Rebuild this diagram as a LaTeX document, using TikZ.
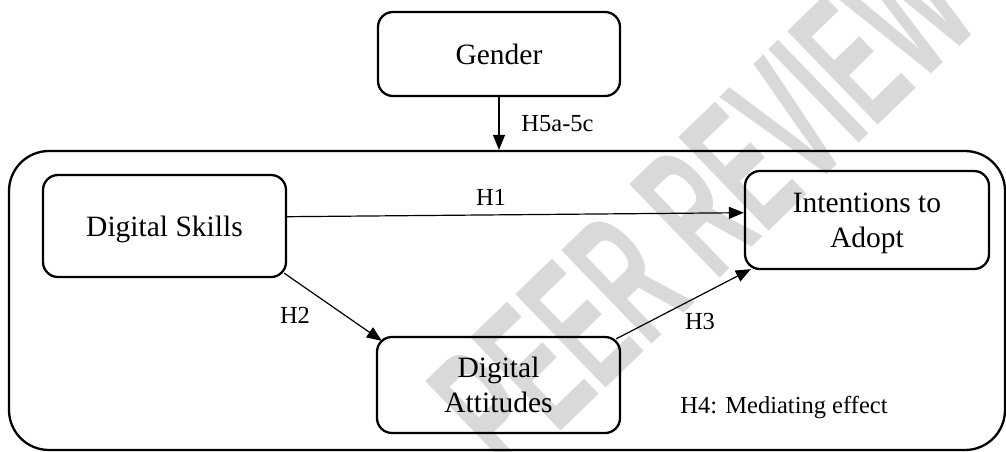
\documentclass[tikz,border=0pt]{standalone}
\usepackage{fontspec}
\setmainfont{Liberation Serif}
\newfontfamily\wmfont{Liberation Sans}
\usetikzlibrary{arrows.meta}
\tikzset{
  x=1pt, y=-1pt,
  boxnode/.style={draw, line width=2.3pt, rounded corners=15pt, align=center,
    font=\fontsize{29.5}{35}\selectfont, inner sep=0pt, text depth=0pt},
  conn/.style={line width=1.2pt, -{Triangle[length=15pt,width=12pt]}},
  lbl/.style={font=\fontsize{24.5}{28}\selectfont, anchor=base, inner sep=0pt},
  wmark/.style={rotate=44, text=black!15, inner sep=0pt,
    font=\wmfont\bfseries\fontsize{189}{189}\selectfont},
}
\begin{document}
\begin{tikzpicture}
\useasboundingbox (0,0) rectangle (1006,451);
\begin{scope}
\clip (0,0) rectangle (1006,451);
\node[wmark] (wm) at (702,205) {\scalebox{0.5}[1]{PEER REVIEW}};
\end{scope}
% outer frame
\node[draw, line width=2.3pt, rounded corners=40pt, minimum width=996pt, minimum height=299pt, inner sep=0pt] (outer) at (507,300.5) {};
% boxes
\node[boxnode, minimum width=242pt, minimum height=84pt] (gender) at (499,54) {Gender};
\node[boxnode, minimum width=243pt, minimum height=102pt] (skills) at (164.5,226) {Digital Skills};
\node[boxnode, minimum width=243pt, minimum height=96pt] (att) at (498.5,385) {Digital\\Attitudes};
\node[boxnode, minimum width=244pt, minimum height=98pt] (intent) at (867,220) {Intentions to\\Adopt};
% connector end points
\coordinate (h1s) at ([yshift=9.3pt]skills.east);
\coordinate (h1e) at ([yshift=7.3pt]intent.west);
\coordinate (h2s) at ([xshift=-3pt,yshift=5pt]skills.south east);
\coordinate (h2e) at ([xshift=6pt,yshift=-5pt]att.north west);
\coordinate (h3s) at ([xshift=-5pt,yshift=-3pt]att.north east);
\coordinate (h3e) at ([xshift=7pt,yshift=1pt]intent.south west);
% connectors
\draw[conn] (gender.south) -- (gender.south |- outer.north);
\draw[conn] (h1s) -- (h1e);
\draw[conn] (h2s) -- (h2e);
\draw[conn] (h3s) -- (h3e);
% labels
\node[lbl] (l5) at (557.5,131) {H5a-5c};
\node[lbl] (l1) at (491,205) {H1};
\node[lbl] (l2) at (295,323) {H2};
\node[lbl] (l3) at (700,329) {H3};
\node[lbl] (l4) at (784,413) {H4: Mediating effect};
\end{tikzpicture}
\end{document}
